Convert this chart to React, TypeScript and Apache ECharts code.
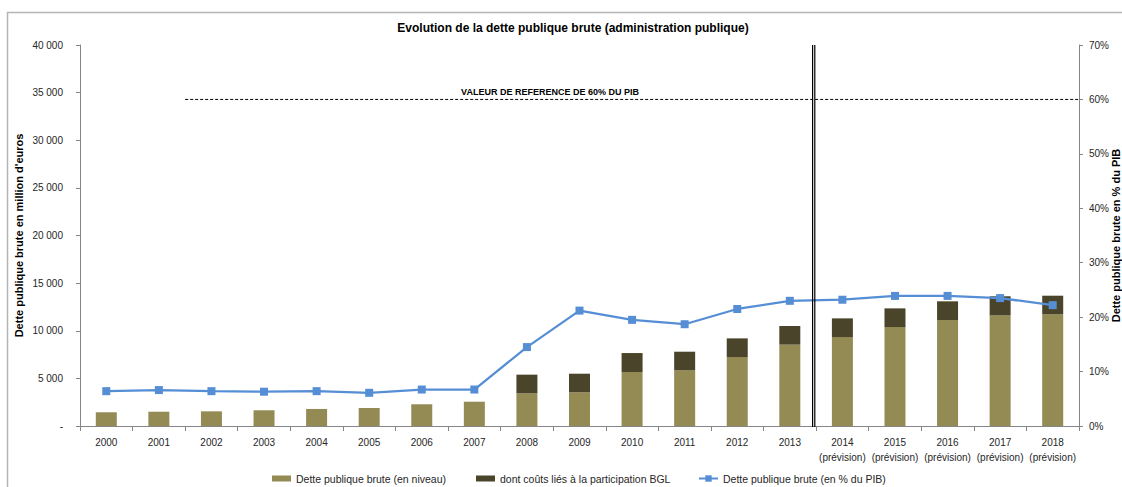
import React, { useEffect, useRef } from "react";
import * as echarts from "echarts";

const categories = ["2000", "2001", "2002", "2003", "2004", "2005", "2006", "2007", "2008", "2009", "2010", "2011", "2012", "2013", "2014", "2015", "2016", "2017", "2018"];
const forecastYears = ["2014", "2015", "2016", "2017", "2018"];
const detteNiveau = [1440, 1500, 1540, 1650, 1790, 1890, 2280, 2550, 3430, 3540, 5670, 5850, 7240, 8540, 9340, 10390, 11130, 11620, 11730];
const coutsBGL = [0, 0, 0, 0, 0, 0, 0, 0, 1960, 1950, 1990, 1950, 1960, 1960, 1960, 1960, 1960, 2000, 1950];
const dettePIB = [6.4, 6.6, 6.4, 6.3, 6.4, 6.1, 6.7, 6.7, 14.5, 21.2, 19.5, 18.7, 21.5, 23.0, 23.2, 23.9, 23.9, 23.5, 22.2];
const leftTicks = { min: 0, max: 40000, interval: 5000 };
const rightTicks = { min: 0, max: 70, interval: 10 };
const referenceValue = 60;
const referenceLabel = "VALEUR DE REFERENCE DE 60% DU PIB";
const titleText = "Evolution de la dette publique brute (administration publique)";
const seriesNames = ["Dette publique brute (en niveau)", "dont coûts liés à la participation BGL", "Dette publique brute (en % du PIB)"];

const FONT = "'Liberation Sans', Arial, sans-serif";
const AXIS_GRAY = "#868686";
const TEXT = "#262626";

function fmtThousands(v: number): string {
  if (v === 0) return "-";
  return String(v).replace(/\B(?=(\d{3})+(?!\d))/g, " ");
}

export default function App() {
  const ref = useRef<HTMLDivElement>(null);
  useEffect(() => {
    if (!ref.current) return;
    const chart = echarts.init(ref.current, undefined, { renderer: "svg" });
    const legendBase = {
      top: 468,
      orient: "horizontal",
      textStyle: { fontFamily: FONT, fontSize: 10.5, color: TEXT },
      itemWidth: 19,
      selectedMode: false,
    };
    chart.setOption({
      animation: false,
      backgroundColor: "#fff",
      textStyle: { fontFamily: FONT },
      grid: { left: 80, right: 43, top: 45, bottom: 61, containLabel: false, outerBoundsMode: "none" },
      legend: [
        { ...legendBase, left: 267, itemHeight: 6, icon: "rect", data: [seriesNames[0]] },
        { ...legendBase, left: 471, itemHeight: 6, icon: "rect", data: [seriesNames[1]] },
        { ...legendBase, left: 693, itemHeight: 8, data: [seriesNames[2]] },
      ],
      xAxis: {
        type: "category",
        data: categories,
        axisLine: { lineStyle: { color: AXIS_GRAY } },
        axisTick: { show: true, length: 5, lineStyle: { color: AXIS_GRAY } },
        axisLabel: {
          color: TEXT,
          fontSize: 10,
          margin: 9,
          lineHeight: 15,
          interval: 0,
          formatter: (v: string) => (forecastYears.includes(v) ? v + "\n(prévision)" : v),
        },
        splitLine: { show: false },
      },
      yAxis: [
        {
          type: "value",
          ...leftTicks,
          name: "Dette publique brute en million d'euros",
          nameLocation: "middle",
          nameGap: 56,
          nameRotate: 90,
          nameMoveOverlap: false,
          nameTextStyle: { fontFamily: FONT, fontSize: 11, fontWeight: "bold", color: "#000" },
          axisLine: { show: true, lineStyle: { color: AXIS_GRAY } },
          axisTick: { show: true, length: 4, lineStyle: { color: AXIS_GRAY } },
          axisLabel: { color: TEXT, fontSize: 10, margin: 17, formatter: fmtThousands },
          splitLine: { show: false },
        },
        {
          type: "value",
          ...rightTicks,
          position: "right",
          name: "Dette publique brute en % du PIB",
          nameLocation: "middle",
          nameGap: 31,
          nameRotate: 90,
          nameMoveOverlap: false,
          nameTextStyle: { fontFamily: FONT, fontSize: 11, fontWeight: "bold", color: "#000" },
          axisLine: { show: true, lineStyle: { color: AXIS_GRAY } },
          axisTick: { show: true, length: 4, lineStyle: { color: AXIS_GRAY } },
          axisLabel: { color: TEXT, fontSize: 10, margin: 10, formatter: "{value}%" },
          splitLine: { show: false },
        },
      ],
      series: [
        {
          name: seriesNames[0],
          type: "bar",
          stack: "dette",
          barWidth: 21,
          itemStyle: { color: "#948A54" },
          data: detteNiveau,
        },
        {
          name: seriesNames[1],
          type: "bar",
          stack: "dette",
          barWidth: 21,
          itemStyle: { color: "#4A452A" },
          data: coutsBGL,
        },
        {
          name: seriesNames[2],
          type: "line",
          yAxisIndex: 1,
          symbol: "rect",
          symbolSize: 8,
          lineStyle: { color: "#558ED5", width: 2.25 },
          itemStyle: { color: "#558ED5" },
          data: dettePIB,
          z: 5,
        },
      ],
    });

    const px = (cat: string) => chart.convertToPixel({ xAxisIndex: 0 }, cat) as number;
    const band = px(categories[1]) - px(categories[0]);
    const refStartX = px("2002") - band / 2;
    const plotRight = px(categories[categories.length - 1]) + band / 2;
    const yRef = chart.convertToPixel({ yAxisIndex: 1 }, referenceValue) as number;
    const yTop = chart.convertToPixel({ yAxisIndex: 0 }, leftTicks.max) as number;
    const yBottom = chart.convertToPixel({ yAxisIndex: 0 }, 0) as number;
    const splitX = (px("2013") + px("2014")) / 2;

    chart.setOption({
      graphic: [
        {
          type: "rect",
          shape: { x: 7.5, y: 12.5, width: 1300, height: 600 },
          style: { fill: "none", stroke: "#b5b5b5", lineWidth: 1.5 },
          silent: true,
        },
        {
          type: "text",
          x: 573,
          y: 28,
          style: { text: titleText, align: "center", verticalAlign: "middle", font: `bold 12px ${FONT}`, fill: "#000" },
        },
        {
          type: "line",
          shape: { x1: refStartX, y1: yRef, x2: plotRight, y2: yRef },
          style: { stroke: "#000", lineWidth: 1, lineDash: [3, 2] },
        },
        {
          type: "text",
          x: 550,
          y: yRef - 7,
          style: { text: referenceLabel, align: "center", verticalAlign: "middle", font: `bold 9px ${FONT}`, fill: "#000" },
        },
        {
          type: "line",
          shape: { x1: splitX - 3.5, y1: yTop, x2: splitX - 3.5, y2: yBottom + 1 },
          style: { stroke: "#000", lineWidth: 1.2 },
          z: 10,
        },
        {
          type: "line",
          shape: { x1: splitX - 1.3, y1: yTop, x2: splitX - 1.3, y2: yBottom + 1 },
          style: { stroke: "#000", lineWidth: 1.2 },
          z: 10,
        },
      ],
    });
    return () => chart.dispose();
  }, []);
  return (
    <div style={{ position: "fixed", left: 0, top: 0, width: 1122, height: 487, background: "#fff" }}>
      <div ref={ref} style={{ width: 1122, height: 487 }} />
    </div>
  );
}
